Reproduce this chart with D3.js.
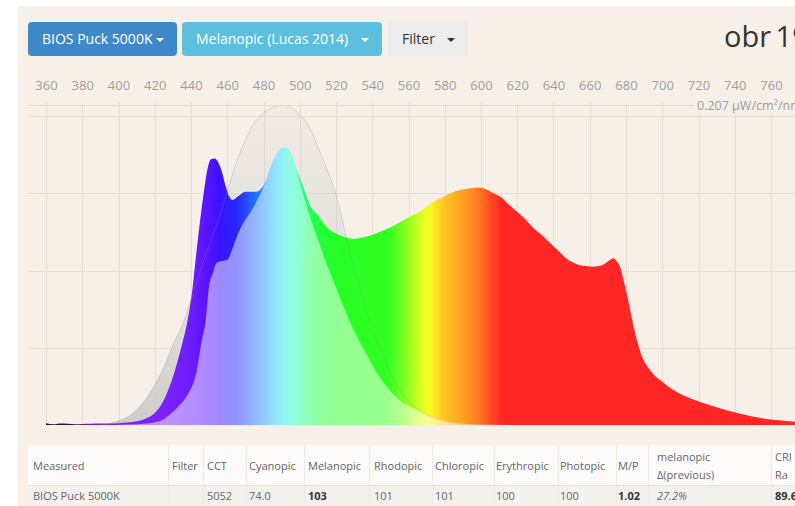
<!DOCTYPE html>
<html>
<head>
<meta charset="utf-8">
<script src="https://cdnjs.cloudflare.com/ajax/libs/d3/7.8.5/d3.min.js"></script>
<style>
  html, body { margin: 0; padding: 0; background: #fff; overflow: hidden; }
  svg { display: block; font-family: "Open Sans", sans-serif; }
</style>
</head>
<body>
<svg id="chart"></svg>
<script>
const W = 795, H = 506;

// wavelength tick labels (nm)
const tickLabels = [360, 380, 400, 420, 440, 460, 480, 500, 520, 540, 560,
  580, 600, 620, 640, 660, 680, 700, 720, 740, 760];

// measured spectrum (µW/cm²/nm)
const spectrumNm = [360, 364, 368, 372, 376, 380, 385, 390, 395, 400, 405, 410, 415, 420,
  425, 430, 435, 438, 441, 443, 445, 447, 449, 451, 453, 455, 457, 459, 461, 463, 466,
  470, 476, 480, 484, 487, 490, 492, 495, 498, 502, 506, 510, 515, 520, 525, 530, 537,
  544, 550, 555, 560, 566, 573, 578, 583, 588, 593, 598, 603, 607, 611, 615, 620, 625,
  629, 634, 638, 643, 647, 652, 656, 662, 666, 669, 673, 675, 677, 679, 681, 684, 688,
  694, 700, 709, 718, 731, 742, 755, 770, 780];
const spectrumVal = [0.0012, 0.0005, 0.0010, 0.0008, 0.0005, 0.0007, 0.0008, 0.0009, 0.0010,
  0.0012, 0.0016, 0.0024, 0.0042, 0.0078, 0.016, 0.031, 0.052, 0.067, 0.090, 0.112, 0.132,
  0.150, 0.165, 0.172, 0.1725, 0.170, 0.164, 0.155, 0.148, 0.1456, 0.148, 0.151, 0.151,
  0.155, 0.165, 0.174, 0.179, 0.1795, 0.176, 0.166, 0.154, 0.1415, 0.136, 0.128, 0.124,
  0.1215, 0.1205, 0.122, 0.125, 0.128, 0.131, 0.1345, 0.138, 0.144, 0.147, 0.150, 0.152,
  0.153, 0.1537, 0.1525, 0.150, 0.1475, 0.143, 0.138, 0.1325, 0.1275, 0.1225, 0.118,
  0.1125, 0.108, 0.1045, 0.103, 0.1025, 0.103, 0.105, 0.108, 0.106, 0.1015, 0.092, 0.082,
  0.0647, 0.047, 0.0345, 0.028, 0.0207, 0.0162, 0.0112, 0.0076, 0.0043, 0.0025, 0.0018];

// melanopic (Lucas 2014) sensitivity, relative
const melanopicNm = [390, 395, 400, 405, 410, 415, 420, 425, 430, 435, 440, 445, 450, 455,
  460, 465, 470, 475, 480, 485, 490, 495, 500, 505, 510, 515, 520, 525, 530, 535, 540,
  545, 550, 555, 560, 565, 570, 575, 580, 590, 600];
const melanopicRel = [0, 0.005, 0.013, 0.025, 0.047, 0.08, 0.125, 0.18, 0.25, 0.31, 0.39,
  0.48, 0.56, 0.64, 0.73, 0.82, 0.89, 0.945, 0.975, 0.993, 1.0, 0.993, 0.97, 0.935, 0.87,
  0.80, 0.72, 0.605, 0.49, 0.39, 0.30, 0.23, 0.165, 0.11, 0.075, 0.05, 0.032, 0.02, 0.012,
  0.004, 0];

// melanopic-weighted spectrum
const weightedNm = [400, 410, 415, 419, 424, 428, 433, 438, 443, 446, 448, 450, 452, 454,
  457, 460, 463, 466, 469, 474, 480, 485, 490, 492, 495, 500, 505, 510, 515, 518, 523,
  528, 537, 546, 555, 565, 574, 583, 600, 620];
const weightedVal = [0.0002, 0.0005, 0.001, 0.0015, 0.003, 0.0065, 0.012, 0.0194, 0.0343,
  0.055, 0.0667, 0.090, 0.098, 0.1048, 0.1062, 0.1068, 0.1145, 0.124, 0.1307, 0.140,
  0.154, 0.170, 0.179, 0.1795, 0.176, 0.157, 0.137, 0.12, 0.104, 0.095, 0.08, 0.066,
  0.0453, 0.028, 0.0162, 0.0095, 0.005, 0.002, 0.0004, 0];

// colour of each wavelength
const colorNm = [360, 375, 385, 400, 425, 440, 448, 456, 465, 472, 480, 486, 491, 497,
  504, 510, 520, 548, 556, 562, 568, 573, 578, 586, 595, 601, 606, 612, 780];
const colorHex = ["#1a1420", "#2a1830", "#6a1fe0", "#7a22ff", "#7b22ff", "#6e1cff",
  "#5a14ff", "#3a12ff", "#2626ff", "#2458ff", "#2290ff", "#20c4ff", "#22e8e6", "#22ffc0",
  "#22ff70", "#22ff40", "#24ff24", "#30ff20", "#6cff20", "#a8ff20", "#e6ff22", "#fff222",
  "#ffcc22", "#ffae22", "#ff8e22", "#ff6a22", "#ff4424", "#ff2626", "#ff2626"];

const topValue = 0.207;
const topLabel = "0.207 µW/cm²/nm";
const gridValues = [0.05, 0.1, 0.15, 0.2];

const buttonLabels = ["BIOS Puck 5000K", "Melanopic (Lucas 2014)", "Filter"];
const titleText = "obr 19";

const tableHeaders = [["Measured"], ["Filter"], ["CCT"], ["Cyanopic"], ["Melanopic"],
  ["Rhodopic"], ["Chloropic"], ["Erythropic"], ["Photopic"], ["M/P"],
  ["melanopic", "Δ(previous)"], ["CRI", "Ra"]];
const tableRow = ["BIOS Puck 5000K", "", "5052", "74.0", "103", "101", "101", "100",
  "100", "1.02", "27.2%", "89.6"];
const boldCells = ["103", "1.02", "89.6"];
const italicCells = ["27.2%"];

// ---- layout ----
const bg = "#f6f0e9";
const baseY = 425;

const svg = d3.select("#chart").attr("width", W).attr("height", H);

svg.append("rect").attr("x", 18).attr("y", 6).attr("width", W - 18).attr("height", H - 6)
  .attr("fill", bg);

const x = d3.scaleLinear().domain([360, 760]).range([46, 771]);
const y = d3.scaleLinear().domain([0, 0.2]).range([baseY, 116]);

const defs = svg.append("defs");

// spectral gradients
function addGradient(id, mix) {
  const g = defs.append("linearGradient").attr("id", id)
    .attr("gradientUnits", "userSpaceOnUse")
    .attr("x1", x(360)).attr("x2", x(780)).attr("y1", 0).attr("y2", 0);
  colorNm.forEach((nm, i) => {
    g.append("stop")
      .attr("offset", (nm - 360) / (780 - 360))
      .attr("stop-color", d3.interpolateRgb(colorHex[i], "#ffffff")(mix));
  });
}
addGradient("vivid", 0);
addGradient("pastel", 0.5);

const grayGrad = defs.append("linearGradient").attr("id", "grayfill")
  .attr("gradientUnits", "userSpaceOnUse")
  .attr("x1", 0).attr("x2", 0).attr("y1", y(topValue)).attr("y2", baseY);
grayGrad.append("stop").attr("offset", 0).attr("stop-color", "#c8c8c8").attr("stop-opacity", 0.15);
grayGrad.append("stop").attr("offset", 0.6).attr("stop-color", "#c8c8c8").attr("stop-opacity", 0.45);
grayGrad.append("stop").attr("offset", 1).attr("stop-color", "#c4c4c4").attr("stop-opacity", 0.8);

// grid
const grid = svg.append("g").attr("stroke", "#e6ddd5").attr("stroke-width", 1);
grid.selectAll("line.v").data(tickLabels).join("line").attr("class", "v")
  .attr("x1", d => Math.round(x(d)) + 0.5).attr("x2", d => Math.round(x(d)) + 0.5)
  .attr("y1", 103).attr("y2", baseY);
grid.selectAll("line.h").data(gridValues).join("line").attr("class", "h")
  .attr("x1", 28).attr("x2", W)
  .attr("y1", d => Math.round(y(d)) + 0.5).attr("y2", d => Math.round(y(d)) + 0.5);

// series
const spectrum = spectrumNm.map((nm, i) => ({ nm, v: spectrumVal[i] }));
const melanopic = melanopicNm.map((nm, i) => ({ nm, v: melanopicRel[i] * topValue }));
const weighted = weightedNm.map((nm, i) => ({ nm, v: weightedVal[i] }));

const area = d3.area().x(d => x(d.nm)).y0(baseY).y1(d => y(d.v)).curve(d3.curveMonotoneX);
const line = d3.line().x(d => x(d.nm)).y(d => y(d.v)).curve(d3.curveMonotoneX);

svg.append("path").datum(melanopic).attr("d", area).attr("fill", "url(#grayfill)");
svg.append("path").datum(spectrum).attr("d", area).attr("fill", "url(#vivid)");
svg.append("path").datum(weighted).attr("d", area).attr("fill", "url(#pastel)");
svg.append("path").datum(melanopic).attr("d", line).attr("fill", "none")
  .attr("stroke", "#8a8a8a").attr("stroke-opacity", 0.3).attr("stroke-width", 1);

// top value line and label
const topY = Math.round(y(topValue)) + 0.5;
svg.append("line").attr("x1", 28).attr("x2", 694).attr("y1", topY).attr("y2", topY)
  .attr("stroke", "#e2d9d1");
svg.append("rect").attr("x", 694).attr("y", topY - 8).attr("width", W - 694).attr("height", 16)
  .attr("fill", bg);
svg.append("text").attr("x", 697).attr("y", topY + 4.5).attr("font-size", 12.5)
  .attr("fill", "#9a9a9a").text(topLabel);

// wavelength axis
const axis = svg.append("g").attr("transform", "translate(0,90)")
  .call(d3.axisTop(x).tickValues(tickLabels).tickSize(0).tickPadding(0));
axis.select(".domain").remove();
axis.selectAll("text").attr("font-size", 13).attr("fill", "#9d9d9d")
  .attr("font-family", "'Open Sans', sans-serif");

// buttons
const btnX = [28, 182, 388], btnW = [149, 200, 80];
const btnFill = ["#3f89c9", "#5bbfdd", "#ededed"];
const btnText = ["#ffffff", "#ffffff", "#333333"];
const btnCaret = [160, 365, 451];
buttonLabels.forEach((label, i) => {
  const g = svg.append("g");
  g.append("rect").attr("x", btnX[i]).attr("y", 22).attr("width", btnW[i]).attr("height", 34)
    .attr("rx", 4).attr("fill", btnFill[i]);
  g.append("text").attr("x", btnX[i] + 14).attr("y", 44).attr("font-size", 14)
    .attr("fill", btnText[i]).text(label);
  g.append("path").attr("d", `M${btnCaret[i] - 4},38 L${btnCaret[i] + 4},38 L${btnCaret[i]},42 Z`)
    .attr("fill", btnText[i]);
});

svg.append("text").attr("x", 724).attr("y", 47).attr("font-size", 29).attr("fill", "#333")
  .attr("word-spacing", -3).text(titleText);

// table
const colX = [33, 172, 207, 249, 308, 374, 435, 496, 560, 618, 657, 775];
const colBorders = [168, 203, 246, 304, 369, 432, 494, 558, 616, 648, 771];
const table = svg.append("g");
table.append("rect").attr("x", 28).attr("y", 445).attr("width", W - 28).attr("height", 40)
  .attr("fill", "#fcfbf9");
table.append("rect").attr("x", 28).attr("y", 485).attr("width", W - 28).attr("height", 25)
  .attr("fill", "#f4f0eb");
table.append("line").attr("x1", 28).attr("x2", W).attr("y1", 485.5).attr("y2", 485.5)
  .attr("stroke", "#e6e1dc");
table.selectAll("line.col").data(colBorders).join("line").attr("class", "col")
  .attr("x1", d => d + 0.5).attr("x2", d => d + 0.5).attr("y1", 445).attr("y2", H)
  .attr("stroke", "#ece8e3");

tableHeaders.forEach((lines, i) => {
  lines.forEach((l, j) => {
    table.append("text").attr("x", colX[i])
      .attr("y", lines.length === 1 ? 469.5 : 460.5 + j * 18.5)
      .attr("font-size", 11).attr("fill", "#666").text(l);
  });
});
tableRow.forEach((v, i) => {
  table.append("text").attr("x", colX[i]).attr("y", 500).attr("font-size", 11)
    .attr("fill", boldCells.includes(v) ? "#333" : "#666")
    .attr("font-weight", boldCells.includes(v) ? "bold" : "normal")
    .attr("font-style", italicCells.includes(v) ? "italic" : "normal")
    .text(v);
});
</script>
</body>
</html>
